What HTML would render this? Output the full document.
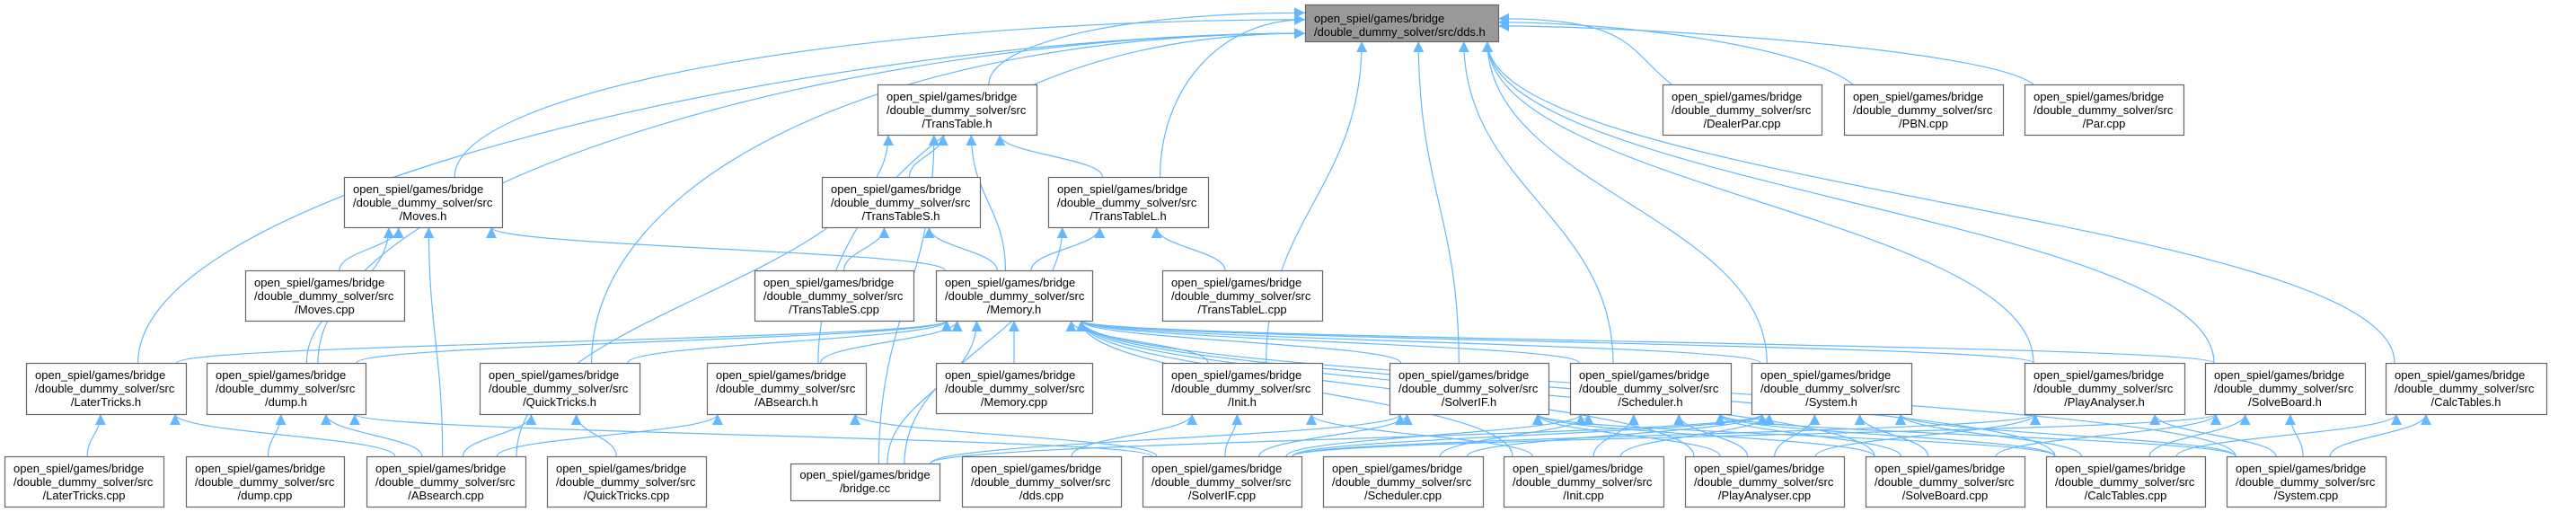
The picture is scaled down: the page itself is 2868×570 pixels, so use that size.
<!DOCTYPE html>
<html><head><meta charset="utf-8">
<style>
html,body{margin:0;padding:0;background:#fff;width:2868px;height:570px;overflow:hidden}
svg{display:block}
text{font-family:"Liberation Sans",Arial,sans-serif;font-size:13px;fill:#000}
</style></head>
<body>
<svg id="g" width="2868" height="570" xmlns="http://www.w3.org/2000/svg">
<defs>
<marker id="ah" viewBox="0 0 10 10" refX="10" refY="5" markerWidth="12" markerHeight="12" markerUnits="userSpaceOnUse" orient="auto">
<path d="M0,0 L10,5 L0,10 z" fill="#63b8ff"/>
</marker>
</defs>
<g id="edges" fill="none" stroke="#63b8ff" stroke-width="1.2"></g>
<g id="nodes"></g>
</svg>
<script>
var P="open_spiel/games/bridge",D="/double_dummy_solver/src";
var N={
dds:[1453,1668,5,46,"/dds.h"],
TT:[977,1154,94,150,"/TransTable.h"],
DP:[1851,2028,94,150,"/DealerPar.cpp"],
PBN:[2053,2230,94,150,"/PBN.cpp"],
Par:[2254,2431,94,150,"/Par.cpp"],
MV:[383,559,197,253,"/Moves.h"],
TTS:[915,1091,197,253,"/TransTableS.h"],
TTL:[1167,1345,197,253,"/TransTableL.h"],
MVc:[273,450,301,357,"/Moves.cpp"],
TTSc:[840,1017,301,357,"/TransTableS.cpp"],
MEM:[1042,1216,301,357,"/Memory.h"],
TTLc:[1294,1472,301,357,"/TransTableL.cpp"],
LT:[29,207,404,461,"/LaterTricks.h"],
DU:[230,407,404,461,"/dump.h"],
QT:[534,712,404,461,"/QuickTricks.h"],
AB:[787,964,404,461,"/ABsearch.h"],
MEMc:[1042,1216,404,460,"/Memory.cpp"],
IN:[1294,1472,404,461,"/Init.h"],
SI:[1547,1724,404,461,"/SolverIF.h"],
SC:[1748,1927,404,461,"/Scheduler.h"],
SY:[1950,2128,404,461,"/System.h"],
PA:[2254,2432,404,461,"/PlayAnalyser.h"],
SB:[2455,2633,404,461,"/SolveBoard.h"],
CT:[2656,2835,404,461,"/CalcTables.h"],
LTc:[5,182,508,564,"/LaterTricks.cpp"],
DUc:[207,383,508,564,"/dump.cpp"],
ABc:[408,585,508,564,"/ABsearch.cpp"],
QTc:[609,786,508,564,"/QuickTricks.cpp"],
BR:[880,1046,516,557,"/bridge.cc"],
DDc:[1071,1248,508,564,"/dds.cpp"],
SIc:[1272,1449,508,564,"/SolverIF.cpp"],
SCc:[1473,1651,508,564,"/Scheduler.cpp"],
INc:[1674,1852,508,564,"/Init.cpp"],
PAc:[1876,2053,508,564,"/PlayAnalyser.cpp"],
SBc:[2077,2254,508,564,"/SolveBoard.cpp"],
CTc:[2278,2455,508,564,"/CalcTables.cpp"],
SYc:[2479,2656,508,564,"/System.cpp"]
};
var E={
dds:["TT","MV","LT","DU","QT","AB","TTL","IN","SI","SC","SY","PA","SB","CT","DP","PBN","Par"],
TT:["TTS","TTL","MEM","ABc","BR"],
TTS:["TTSc","MEM"],
TTL:["TTLc","MEM","BR"],
MV:["MVc","MEM","DU","ABc"],
MEM:["LT","DU","QT","AB","MEMc","IN","SI","SC","SY","PA","SB","BR","SYc","CTc","SBc","PAc","INc"],
LT:["LTc","ABc"],
DU:["DUc","ABc","SIc"],
QT:["ABc","QTc"],
AB:["ABc","SIc"],
IN:["DDc","SIc","INc"],
SI:["BR","SIc","PAc","SBc","CTc"],
SC:["SIc","SCc","INc","PAc","SBc","CTc","SYc"],
SY:["SIc","SCc","INc","PAc","SBc","CTc","SYc","BR"],
PA:["PAc","SYc","SIc"],
SB:["SBc","CTc","SYc","SIc"],
CT:["CTc","SYc"]
};
var ns="http://www.w3.org/2000/svg";
var eg=document.getElementById("edges"),ng=document.getElementById("nodes");
function mk(t,a,p){var e=document.createElementNS(ns,t);for(var k in a)e.setAttribute(k,a[k]);p.appendChild(e);return e;}
for(var t in E){E[t].forEach(function(s){
  var S=N[s],T=N[t];
  var scx=(S[0]+S[1])/2, sy=S[2];
  var tcx=(T[0]+T[1])/2, ty=T[3];
  var tx,d;
  if(t==="dds" && scx<1380){
    tx=1453;ty=14+Math.min(28,(sy-90)/380*28);
    var sx0=S[0]+(S[1]-S[0])*0.7;
    if(sx0>1380)sx0=1380;
    var c1y=Math.max(ty+30,sy-(sy-ty)*0.55);
    d="M"+sx0+","+sy+" C"+sx0+","+c1y+" "+(tx-Math.min(500,(tx-sx0)*0.6))+","+ty+" "+tx+","+ty;
    mk("path",{d:d,"marker-end":"url(#ah)"},eg);return;}
  if(t==="dds" && scx>1700 && sy<200){
    tx=1668;ty=20+(scx-1900)/500*10;
    d="M"+(S[0]+10)+","+sy+" C"+(S[0]-40)+","+(sy-40)+" "+(tx+150)+","+ty+" "+tx+","+ty;
    mk("path",{d:d,"marker-end":"url(#ah)"},eg);return;}
  var off=(scx-tcx)*0.25; off=Math.max(-(T[1]-T[0])/2+12,Math.min((T[1]-T[0])/2-12,off));
  tx=tcx+off;
  var sx=scx-(scx-tcx)*0.15; sx=Math.max(S[0]+10,Math.min(S[1]-10,sx));
  var dy=sy-ty;
  d="M"+sx+","+sy+" C"+sx+","+(sy-dy*0.45)+" "+tx+","+(ty+dy*0.45)+" "+tx+","+ty;
  mk("path",{d:d,"marker-end":"url(#ah)"},eg);
});}
for(var k in N){var n=N[k];
  mk("rect",{x:n[0]+0.5,y:n[2]+0.5,width:n[1]-n[0],height:n[3]-n[2],fill:k==="dds"?"#999999":"#ffffff",stroke:"#666666","stroke-width":1.2},ng);
  var lx=n[0]+10;
  if(k==="dds"){
    var t1=mk("text",{x:lx,y:n[2]+20},ng);t1.textContent=P;
    var t2=mk("text",{x:lx,y:n[2]+35},ng);t2.textContent=D+n[4];
  } else if(k==="BR"){
    var t1=mk("text",{x:(n[0]+n[1])/2,y:n[2]+17,"text-anchor":"middle"},ng);t1.textContent=P;
    var t2=mk("text",{x:(n[0]+n[1])/2,y:n[2]+32,"text-anchor":"middle"},ng);t2.textContent=n[4];
  } else {
    var t1=mk("text",{x:lx,y:n[2]+18},ng);t1.textContent=P;
    var t2=mk("text",{x:lx,y:n[2]+33},ng);t2.textContent=D;
    var t3=mk("text",{x:(n[0]+n[1])/2,y:n[2]+48,"text-anchor":"middle"},ng);t3.textContent=n[4];
  }
}
</script>
</body></html>
